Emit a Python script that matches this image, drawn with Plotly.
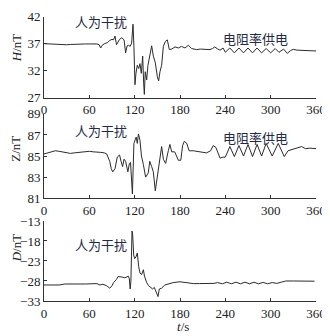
import plotly.graph_objects as go

# ---------------- data ----------------
t_H = [0, 5, 10, 15, 20, 25, 30, 35, 40, 45, 50, 55, 60, 65, 70, 73, 75, 77, 80, 84, 87, 90, 92, 94, 96, 98,
       100, 103, 106, 108, 110, 112, 114, 116, 117.8, 119, 120.4, 121.7, 123.5, 125.3, 127, 128.8, 130.6,
       131.9, 132.8, 134, 135.9, 137.6, 140.3, 142.5, 144.7, 147.3, 150, 151.7, 153.5, 155.7, 158, 160.6,
       163.2, 165.9, 169, 173.4, 177.8, 182, 186.6, 191, 195.4, 202, 207, 211, 215, 219.7, 223, 226, 230,
       233, 237, 240, 246, 252, 258, 264, 270, 276, 282, 288, 294, 300, 306, 311, 317, 322, 326, 330, 335,
       340, 345, 350, 355, 360]
H = [37.0, 36.95, 36.9, 36.9, 36.85, 36.8, 36.8, 36.85, 36.9, 36.9, 36.95, 36.95, 36.95, 36.95, 36.95, 36.8,
     36.2, 36.7, 37.0, 37.2, 37.6, 37.8, 37.7, 38.4, 36.8, 37.3, 37.8, 38.1, 37.7, 35.3, 36.6, 36.7, 36.5,
     37.1, 40.6, 36.5, 29.4, 31.5, 33.0, 32.4, 33.3, 31.5, 34.7, 29.7, 27.6, 31.8, 30.3, 33.0, 35.0, 36.6,
     34.7, 33.5, 30.9, 30.1, 31.8, 33.0, 36.5, 37.4, 37.7, 35.9, 36.0, 36.4, 36.2, 36.5, 36.2, 36.7, 36.1,
     35.9, 36.0, 36.0, 35.9, 35.9, 36.1, 36.4, 36.0, 35.8, 36.2, 35.4, 36.2, 35.3, 36.2, 35.3, 36.2, 35.3,
     36.2, 35.3, 36.1, 35.3, 36.1, 35.4, 36.0, 35.2, 35.7, 35.95, 35.8, 35.75, 35.7, 35.7, 35.65, 35.65]

t_Z = [0, 5, 10, 15, 20, 25, 30, 35, 40, 45, 50, 55, 60, 65, 70, 75, 80, 83, 87, 89, 91, 94, 97, 100, 102,
       104, 106, 108, 111, 113, 114.5, 116, 117, 119, 122, 123.5, 125, 127, 129, 131.5, 134.5, 138, 140,
       142.5, 144.7, 147.3, 150, 152.6, 155.7, 158, 161, 164.5, 166.7, 169, 173, 177.8, 181, 183.5, 185.7,
       189, 192, 197.6, 206, 215, 220.5, 224, 227.6, 230.7, 233, 237, 240, 246, 252, 258, 264, 270, 276,
       282, 288, 294, 302, 310, 318, 323, 330, 335, 341, 346, 352, 360]
Z = [85.2, 85.3, 85.45, 85.5, 85.45, 85.4, 85.35, 85.25, 85.3, 85.35, 85.4, 85.4, 85.45, 85.4, 85.4, 85.35,
     85.3, 85.2, 84.5, 83.8, 83.5, 83.8, 84.9, 85.1, 84.5, 84.0, 84.7, 84.5, 83.5, 84.3, 84.4, 83.0, 81.4,
     86.2, 86.8, 86.2, 87.1, 86.5, 85.0, 84.2, 83.0, 83.4, 84.5, 84.0, 83.5, 81.7, 83.2, 84.3, 85.9, 84.7,
     84.3, 85.5, 86.1, 85.4, 85.4, 84.6, 84.6, 86.0, 86.4, 86.2, 85.5, 85.5, 85.4, 85.3, 85.5, 86.0, 85.8,
     85.2, 84.8, 84.9, 84.9, 85.9, 84.95, 86.0, 85.0, 86.1, 84.95, 86.1, 85.0, 86.2, 85.0, 86.2, 84.95,
     85.5, 85.65, 85.7, 85.9, 85.7, 85.75, 85.7]

t_D = [0, 10, 20, 28, 35, 45, 55, 65, 70, 74, 78, 83, 87, 90, 92, 96, 98, 103, 107, 111.6, 113, 114, 115,
       116.5, 117.3, 118.7, 120, 121.7, 123.5, 125.3, 127, 129.2, 131.5, 133, 135.9, 138.5, 141, 143.8,
       146, 149, 150.9, 152.6, 155.7, 160, 164.5, 171, 180, 188.8, 197.6, 206, 215, 225, 230, 236, 242,
       248, 254, 260, 266, 272, 278, 284, 290, 296, 302, 308, 314, 320, 330, 340, 350, 358]
D = [-29.0, -29.0, -29.0, -28.75, -28.8, -28.75, -28.75, -28.7, -28.65, -29.0, -28.8, -29.2, -29.8, -29.2,
     -28.4, -27.6, -26.9, -27.0, -27.2, -26.8, -27.5, -30.0, -28.2, -15.5, -16.3, -21.5, -22.4, -22.0,
     -21.0, -24.4, -26.0, -26.4, -25.2, -26.8, -28.4, -29.2, -29.5, -30.0, -29.6, -30.8, -31.9, -30.0,
     -29.8, -29.0, -28.8, -28.4, -28.2, -28.4, -28.65, -28.65, -28.65, -28.6, -28.4, -28.7, -28.3, -28.7,
     -28.3, -28.7, -28.3, -28.7, -28.3, -28.7, -28.35, -28.7, -28.4, -28.6, -28.3, -28.0, -28.0, -28.05,
     -28.05, -28.05]

x_ticks = [0, 60, 120, 180, 240, 300, 360]
H_ticks = [27, 32, 37, 42]
Z_ticks = [81, 83, 85, 87, 89]
D_ticks = [-33, -28, -23, -18, -13]

label_dist = "人为干扰"
label_power = "电阻率供电"

# ---------------- figure ----------------
OFF = 8                      # page body margin (px)
W, Hpx = 330 - OFF, 336 - OFF
PLOT_L, PLOT_R, PLOT_B = 44, 316, 301   # in window pixels
ML, MR, MT = PLOT_L - OFF, W - (PLOT_R - OFF), 0
MB = Hpx - (PLOT_B - OFF)
PH = Hpx - MT - MB


def ydom(top_px, bot_px):
    tp, bp = top_px - OFF, bot_px - OFF
    return [(PH - bp) / PH, (PH - tp) / PH]


def px_to_paper(xp, yp):
    return (xp - OFF - ML) / (W - ML - MR), (PH - (yp - OFF - MT)) / PH


LINE = "#2b2b2b"
TXT = "#222222"
serif = "Liberation Serif, Times New Roman, serif"
cjk = "Noto Sans CJK SC, sans-serif"

fig = go.Figure()
for i, (tx, vy) in enumerate([(t_H, H), (t_Z, Z), (t_D, D)], start=1):
    fig.add_trace(go.Scatter(x=tx, y=vy, mode="lines",
                             line=dict(color=LINE, width=1),
                             xaxis="x" if i == 1 else f"x{i}",
                             yaxis="y" if i == 1 else f"y{i}",
                             showlegend=False, hoverinfo="skip"))

axis_common = dict(showline=True, linecolor="#333", linewidth=1, ticks="inside", ticklen=3,
                   tickcolor="#333", showgrid=False, zeroline=False,
                   tickfont=dict(family=serif, size=13, color=TXT), mirror=False)

doms = [ydom(9.7, 92.7), ydom(109.3, 195.7), ydom(219, 301)]
ranges = [[27, 42], [81, 89], [-33, -13]]
yticks = [H_ticks, Z_ticks, D_ticks]

layout = dict(width=W, height=Hpx, margin=dict(l=ML, r=MR, t=MT, b=MB),
              paper_bgcolor="white", plot_bgcolor="white", showlegend=False)
for i in range(3):
    xk = "xaxis" if i == 0 else f"xaxis{i+1}"
    yk = "yaxis" if i == 0 else f"yaxis{i+1}"
    ya = "y" if i == 0 else f"y{i+1}"
    xa = "x" if i == 0 else f"x{i+1}"
    layout[xk] = dict(axis_common, domain=[0, 1], range=[0, 360], tickvals=x_ticks,
                      anchor=ya, ticklabeloverflow="allow")
    layout[yk] = dict(axis_common, domain=doms[i], range=ranges[i], tickvals=yticks[i],
                      anchor=xa, ticklabeloverflow="allow")
fig.update_layout(**layout)

ann = []
for txt, (xp, yp) in [("<i>H</i>/nT", (16, 42)), ("Z/nT", (16, 145)), ("<i>D</i>/nT", (16, 247))]:
    xx, yy = px_to_paper(xp, yp)
    ann.append(dict(text=txt, x=xx, y=yy, xref="paper", yref="paper", textangle=-90,
                    showarrow=False, font=dict(family=serif, size=13, color=TXT),
                    xanchor="center", yanchor="middle"))
xx, yy = px_to_paper(183, 327)
ann.append(dict(text="<i>t</i>/s", x=xx, y=yy, xref="paper", yref="paper", showarrow=False,
                font=dict(family=serif, size=13, color=TXT), xanchor="center", yanchor="middle"))
for txt, (xp, yp) in [(label_dist, (101, 15)), (label_power, (255, 32)),
                      (label_dist, (101, 126)), (label_power, (255, 134)),
                      (label_dist, (101, 243))]:
    xx, yy = px_to_paper(xp, yp)
    ann.append(dict(text=txt, x=xx, y=yy, xref="paper", yref="paper", showarrow=False,
                    font=dict(family=cjk, size=13, color="#1f2a44"),
                    xanchor="center", yanchor="middle"))
fig.update_layout(annotations=ann)

fig.write_html("out.html")
